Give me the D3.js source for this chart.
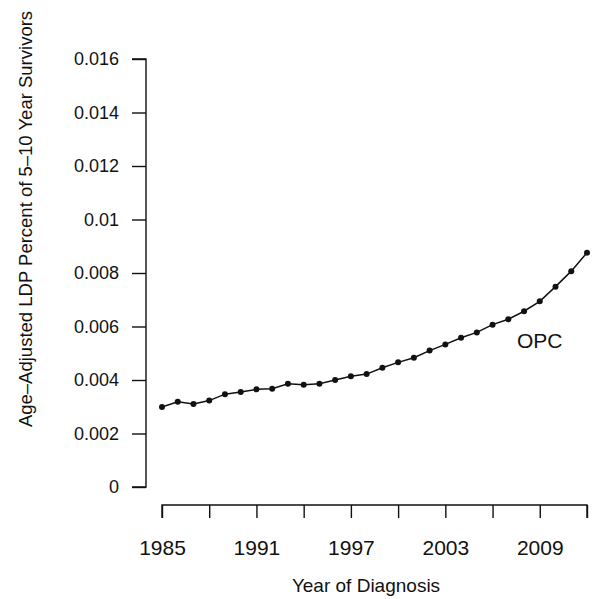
<!DOCTYPE html>
<html><head><meta charset="utf-8">
<script src="https://cdn.jsdelivr.net/npm/d3@7/dist/d3.min.js"></script>
<style>
html,body{margin:0;padding:0;background:#fff;}
svg{display:block;font-family:"Liberation Sans",Arial,Helvetica,sans-serif;}
</style></head>
<body>
<svg id="c" width="592" height="599"></svg>
<script>
const years = d3.range(1985, 2013);
const values = [0.00299,0.00319,0.00310,0.00323,0.00347,0.00355,0.00365,0.00367,0.00386,0.00382,
  0.00386,0.00400,0.00414,0.00422,0.00446,0.00466,0.00483,0.00510,0.00533,0.00558,
  0.00578,0.00607,0.00627,0.00657,0.00694,0.00749,0.00807,0.00876];
const xTicks = [1985,1988,1991,1994,1997,2000,2003,2006,2009,2012];
const xTickLabels = ["1985","","1991","","1997","","2003","","2009",""];
const yTicks = [0,0.002,0.004,0.006,0.008,0.01,0.012,0.014,0.016];
const yTickLabels = ["0","0.002","0.004","0.006","0.008","0.01","0.012","0.014","0.016"];
const seriesLabel = "OPC";
const xTitle = "Year of Diagnosis";
const yTitle = "Age\u2013Adjusted LDP Percent of 5\u201310 Year Survivors";

const svg = d3.select("#c");
const x = d3.scaleLinear().domain([1985,2012]).range([162,587]);
const y = d3.scaleLinear().domain([0,0.016]).range([487,59]);
const ink = "#111";

// y axis
const yAxis = d3.axisLeft(y).tickValues(yTicks).tickSize(14).tickPadding(13)
  .tickFormat((d,i)=>yTickLabels[i]);
const gy = svg.append("g").attr("transform","translate(146,0)").call(yAxis);
gy.select(".domain").attr("d", `M-14,${y(0.016)}H0V${y(0)}H-14`).attr("stroke",ink).attr("stroke-width",1.4);
gy.selectAll(".tick line").attr("stroke",ink).attr("stroke-width",1.4);
gy.selectAll(".tick text").attr("font-size",18).attr("fill",ink).attr("font-family","Liberation Sans, Arial, sans-serif");

// x axis
const xAxis = d3.axisBottom(x).tickValues(xTicks).tickSize(13).tickPadding(22)
  .tickFormat((d,i)=>xTickLabels[i]);
const gx = svg.append("g").attr("transform","translate(0,505)").call(xAxis);
gx.select(".domain").attr("d", `M${x(1985)},13V0H${x(2012)}V13`).attr("stroke",ink).attr("stroke-width",1.4);
gx.selectAll(".tick line").attr("stroke",ink).attr("stroke-width",1.4);
gx.selectAll(".tick text").attr("font-size",21).attr("fill",ink).attr("font-family","Liberation Sans, Arial, sans-serif");

// line
const line = d3.line().x((d,i)=>x(years[i])).y(d=>y(d));
svg.append("path").datum(values).attr("d",line).attr("fill","none")
  .attr("stroke",ink).attr("stroke-width",1.5);
svg.selectAll("circle.pt").data(values).enter().append("circle")
  .attr("class","pt").attr("cx",(d,i)=>x(years[i])).attr("cy",d=>y(d)).attr("r",3).attr("fill",ink);

// label
svg.append("text").attr("x",x(2009)).attr("y",y(0.0052)).attr("text-anchor","middle")
  .attr("font-size",21).attr("fill",ink).text(seriesLabel);

// titles
svg.append("text").attr("x",366).attr("y",592).attr("text-anchor","middle")
  .attr("font-size",19).attr("fill",ink).text(xTitle);
svg.append("text").attr("transform","translate(32,219) rotate(-90)").attr("text-anchor","middle")
  .attr("font-size",18.5).attr("fill",ink).text(yTitle);
</script>
</body></html>
